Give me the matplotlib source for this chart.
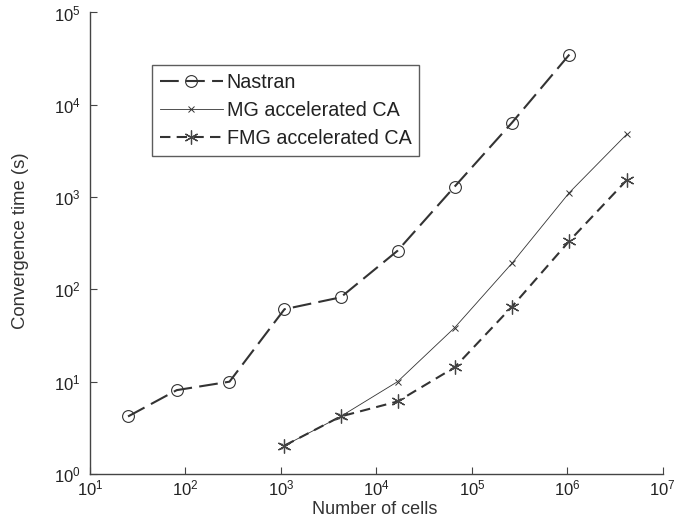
import matplotlib
matplotlib.use("Agg")
import matplotlib.pyplot as plt
from matplotlib.ticker import NullLocator, FixedLocator

plt.rcParams['font.family'] = ['Liberation Sans', 'DejaVu Sans']
plt.rcParams['mathtext.fontset'] = 'custom'
plt.rcParams['mathtext.rm'] = 'Liberation Sans'
plt.rcParams['mathtext.it'] = 'Liberation Sans'

cells_nastran = [25, 81, 289, 1089, 4225, 16641, 66049, 263169, 1050625]
time_nastran = [4.2, 8.1, 10.0, 61, 82, 262, 1300, 6400, 35000]

cells_ca = [1089, 4225, 16641, 66049, 263169, 1050625, 4198401]
time_mg = [2.03, 4.2, 10.0, 38.5, 192, 1120, 4800]
time_fmg = [2.03, 4.2, 6.1, 14.3, 65, 335, 1530]

labels = ["Nastran", "MG accelerated CA", "FMG accelerated CA"]

col = '#333333'
fig = plt.figure(figsize=(6.77, 5.2), dpi=100)
ax = fig.add_axes([0.133, 0.0885, 0.846, 0.8875])

ax.plot(cells_nastran, time_nastran, color=col, lw=1.5, dashes=(9, 3.5),
        marker='o', ms=8.5, mfc='none', mec=col, mew=0.8, label=labels[0])
ax.plot(cells_ca, time_mg, color=col, lw=0.6, marker='x', ms=5, mew=0.7,
        label=labels[1])
ax.plot(cells_ca, time_fmg, color=col, lw=1.5, dashes=(5, 3),
        marker=(6, 2, 0), ms=10, mew=0.9, mec='#444444', label=labels[2])

ax.set_xscale('log')
ax.set_yscale('log')
ax.set_xlim(10, 1e7)
ax.set_ylim(1, 1e5)
ax.xaxis.set_major_locator(FixedLocator([10**k for k in range(1, 8)]))
ax.yaxis.set_major_locator(FixedLocator([10**k for k in range(0, 6)]))
ax.xaxis.set_minor_locator(NullLocator())
ax.yaxis.set_minor_locator(NullLocator())

for s in ['top', 'right']:
    ax.spines[s].set_visible(False)
for s in ['left', 'bottom']:
    ax.spines[s].set_color('#444444')
    ax.spines[s].set_linewidth(1.0)

ax.tick_params(direction='in', length=5, width=0.8, color='#444444',
               labelsize=12, labelcolor='#222222')
ax.tick_params(axis='y', pad=7)
ax.tick_params(axis='x', pad=3)

ax.set_xlabel("Number of cells", fontsize=13, color='#333333')
ax.set_ylabel("Convergence time (s)", fontsize=13.3, color='#333333')
ax.xaxis.set_label_coords(0.4965, -0.058)
ax.yaxis.set_label_coords(-0.106, 0.505)

leg = ax.legend(loc='upper left', bbox_to_anchor=(0.108, 0.886), fontsize=14.2,
                frameon=True, fancybox=False, edgecolor='#333333',
                handlelength=3.2, borderpad=0.4, labelspacing=0.45,
                handletextpad=0.2, borderaxespad=0)
leg.get_frame().set_linewidth(1.0)
for t in leg.get_texts():
    t.set_color('#222222')

fig.savefig("out.png", dpi=100)
